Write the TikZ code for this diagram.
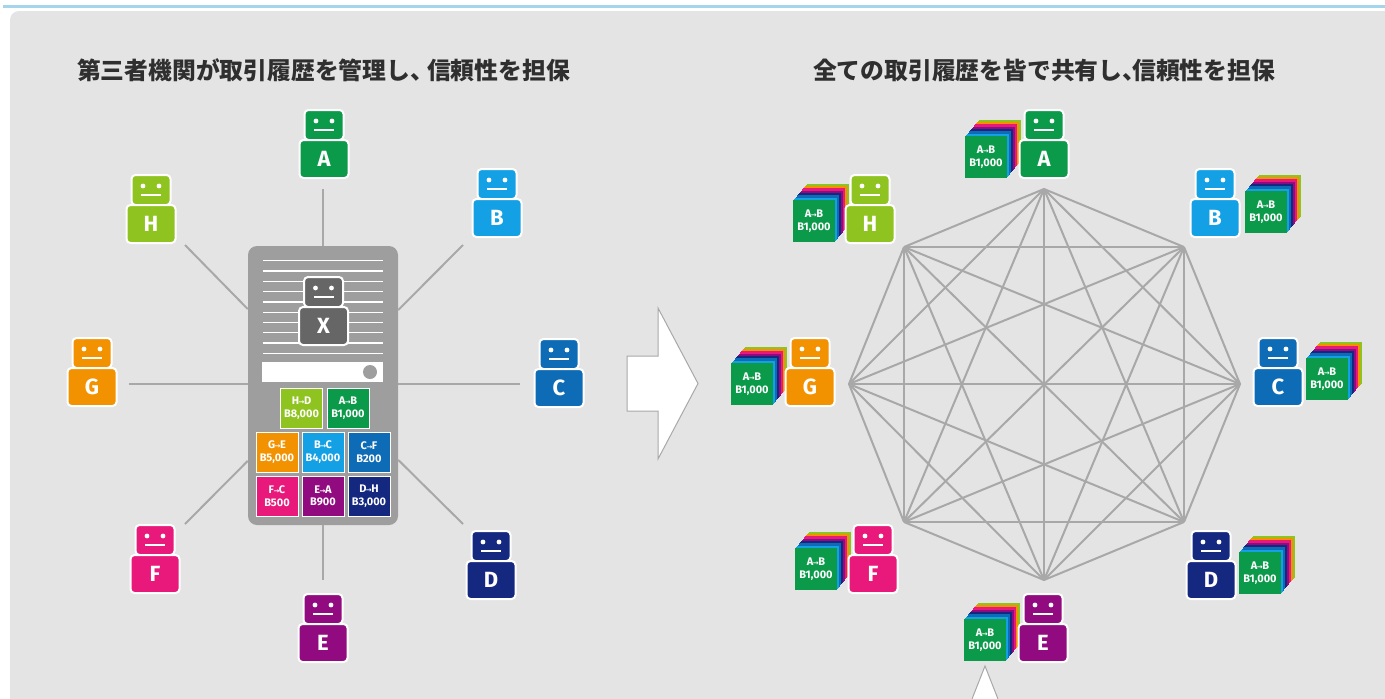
\documentclass[tikz,border=0pt]{standalone}
\usepackage{fontspec}
\setmainfont{Fira Sans}[BoldFont={Fira Sans Bold}]
\newfontfamily\cjk{Noto Sans CJK JP}
\newfontfamily\arrowfont{DejaVu Sans}
\definecolor{cA}{HTML}{0B9A4A}
\definecolor{cB}{HTML}{14A0E4}
\definecolor{cC}{HTML}{0E6BB5}
\definecolor{cD}{HTML}{14287F}
\definecolor{cE}{HTML}{920A80}
\definecolor{cF}{HTML}{E8197A}
\definecolor{cG}{HTML}{F39200}
\definecolor{cH}{HTML}{8FC31F}
\definecolor{cX}{HTML}{666666}
\definecolor{panelgray}{HTML}{E4E4E4}
\definecolor{tabletgray}{HTML}{9E9E9E}
\definecolor{linegray}{HTML}{A8A8A8}
\definecolor{topblue}{HTML}{A5D5EA}
\definecolor{titlecol}{HTML}{2F2F2F}
\newcommand{\arr}{{\arrowfont\fontsize{7}{7}\selectfont\kern-.5pt→\kern-.5pt}}
\tikzset{
  x=1pt,y=-1pt,
  spoke/.style={draw=linegray,line width=2pt},
  web/.style={draw=linegray,line width=2pt},
  titletext/.style={text=titlecol,font=\cjk\bfseries\fontsize{23.8}{24}\selectfont,inner sep=0pt},
  robothead/.style={rounded corners=4pt,draw=white,line width=2pt,minimum width=39pt,minimum height=30pt,inner sep=0pt},
  robotbody/.style={rounded corners=4pt,draw=white,line width=2pt,minimum width=49pt,minimum height=38pt,inner sep=0pt,text=white,font=\bfseries\fontsize{22}{22}\selectfont},
  tile/.style={draw=white,line width=1pt,minimum width=42pt,minimum height=40pt,inner sep=0pt,text=white,align=center,font=\bfseries\fontsize{11}{12.5}\selectfont},
  cardlayer/.style={minimum width=42pt,minimum height=42pt,inner sep=0pt},
  bigarrow/.style={draw=linegray,fill=white,line width=1pt},
}
% #1 name, #2 centre x, #3 top y, #4 colour, #5 letter
\newcommand{\robot}[5]{%
  \node[robothead,fill=#4] (#1head) at (#2,#3+15) {};
  \node[robotbody,fill=#4] (#1body) at (#2,#3+49) {#5};
  \fill[white] (#2-8,#3+11) circle (2.4pt) (#2+8,#3+11) circle (2.4pt);
  \fill[white] (#2-10,#3+19) rectangle (#2+10,#3+21);
}
% #1 name, #2 left x, #3 top y
\newcommand{\pile}[3]{%
  \foreach \k/\c in {7/cH,6/cG,5/cF,4/cE,3/cD,2/cC,1/cB}{
    \node[cardlayer,fill=\c] at ({#2+21+\k*2.05},{#3+21-\k*2.35}) {};
    \node[cardlayer,fill=\c] at ({#2+21+\k*2.05-1},{#3+21-\k*2.35+1.2}) {};
  }
  \node[cardlayer,fill=cA,text=white,align=center,font=\bfseries\fontsize{11}{12.5}\selectfont] (#1) at (#2+21,#3+21) {A\arr B\\B1,000};
}
\begin{document}
\begin{tikzpicture}
\useasboundingbox (0,0) rectangle (1385,699);
\fill[white] (0,0) rectangle (1385,699);
\fill[topblue] (3,5) rectangle (1385,8);
\fill[panelgray,rounded corners=9pt] (10,11) rectangle (1420,730);
\node[titletext] (titleL) at (323.5,70) {第三者機関が取引履歴を管理し、\kern-7pt信頼性を担保};
\node[titletext] (titleR) at (1044,70) {全ての取引履歴を皆で共有し、\kern-14pt信頼性を担保};

% left: tablet
\node[fill=tabletgray,rounded corners=9pt,minimum width=150pt,minimum height=279pt,inner sep=0pt] (tablet) at (323,385.5) {};
\foreach \i in {0,...,9}{
  \coordinate (la\i) at (263,260.7+\i*10.3);
  \coordinate (lb\i) at (383,260.7+\i*10.3);
  \draw[white,line width=1.3pt] (la\i) -- (lb\i);
}
\node[fill=white,minimum width=121pt,minimum height=20pt,inner sep=0pt] (bar) at (322.5,372) {};
\node[circle,fill=tabletgray,minimum size=14pt,inner sep=0pt] (knob) at (370,372) {};
\robot{X}{323.5}{277}{cX}{X}

% tiles
\node[tile,fill=cH] (t1) at (301.5,408) {H\arr D\\B8,000};
\node[tile,fill=cA] (t2) at (348,408) {A\arr B\\B1,000};
\node[tile,fill=cG] (t3) at (277,452) {G\arr E\\B5,000};
\node[tile,fill=cB] (t4) at (323,452) {B\arr C\\B4,000};
\node[tile,fill=cC] (t5) at (369,452) {C\arr F\\B200};
\node[tile,fill=cF] (t6) at (277,496) {F\arr C\\B500};
\node[tile,fill=cE] (t7) at (323,496) {E\arr A\\B900};
\node[tile,fill=cD] (t8) at (369,496) {D\arr H\\B3,000};

% left spokes
\coordinate (sA) at (323,189);
\coordinate (sB) at (463,245);
\coordinate (sC) at (520,384);
\coordinate (sD) at (463,524);
\coordinate (sE) at (323,580);
\coordinate (sF) at (185,524);
\coordinate (sG) at (129,384);
\coordinate (sH) at (185,245);
\draw[spoke] (sA) -- (tablet);
\draw[spoke] (sB) -- (tablet);
\draw[spoke] (sC) -- (sC -| tablet.east);
\draw[spoke] (sD) -- (tablet);
\draw[spoke] (sE) -- (tablet);
\draw[spoke] (sF) -- (tablet);
\draw[spoke] (sG) -- (sG -| tablet.west);
\draw[spoke] (sH) -- (tablet);

% left robots
\robot{lA}{324}{110}{cA}{A}
\robot{lB}{497}{169}{cB}{B}
\robot{lC}{559}{339}{cC}{C}
\robot{lD}{491}{531}{cD}{D}
\robot{lE}{323}{594}{cE}{E}
\robot{lF}{155}{525}{cF}{F}
\robot{lG}{92}{338}{cG}{G}
\robot{lH}{151}{175}{cH}{H}

% central arrow
\draw[bigarrow] (627,356) -- (658,356) -- (658,308) -- (698,383.5) -- (658,459) -- (658,411) -- (627,411) -- cycle;

% right: web
\coordinate (o1) at (1044,189);
\coordinate (o2) at (1184,247);
\coordinate (o3) at (1240,384);
\coordinate (o4) at (1184,522);
\coordinate (o5) at (1044,580);
\coordinate (o6) at (904,522);
\coordinate (o7) at (849,384);
\coordinate (o8) at (904,247);
\foreach \i in {1,...,8}{
  \foreach \j in {1,...,8}{
    \ifnum\i<\j\relax \draw[web] (o\i) -- (o\j); \fi
  }
}

% right robots and piles
\pile{pA}{965}{136}
\robot{rA}{1044}{110}{cA}{A}
\pile{pB}{1245}{191}
\robot{rB}{1215}{169}{cB}{B}
\pile{pC}{1306}{358}
\robot{rC}{1278}{338}{cC}{C}
\pile{pD}{1239}{552}
\robot{rD}{1211}{531}{cD}{D}
\pile{pE}{964}{619}
\robot{rE}{1043}{594}{cE}{E}
\pile{pF}{795}{548}
\robot{rF}{873}{525}{cF}{F}
\pile{pG}{731}{363}
\robot{rG}{810}{338}{cG}{G}
\pile{pH}{793}{200}
\robot{rH}{870}{175}{cH}{H}

% bottom arrow tip
\draw[bigarrow] (972,699) -- (985,666) -- (998,699);
\end{tikzpicture}
\end{document}
